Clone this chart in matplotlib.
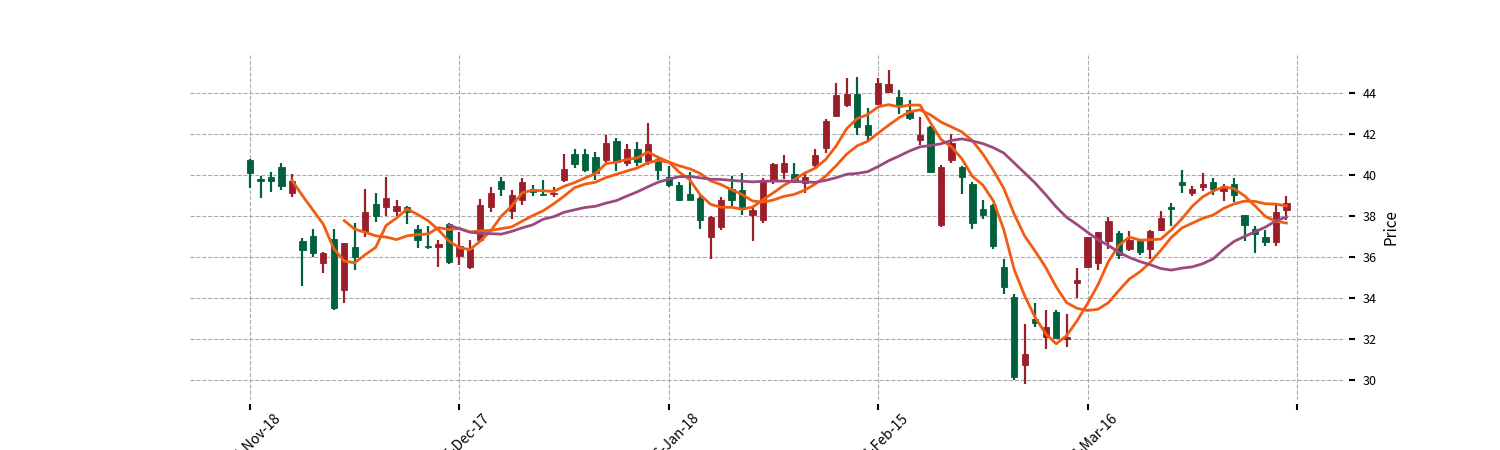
import matplotlib
matplotlib.use("Agg")
import matplotlib.pyplot as plt
import numpy as np
import pandas as pd

plt.rcParams['font.family'] = ['Noto Sans CJK SC', 'DejaVu Sans']

# daily OHLC (100 sessions)
opens = [40.73, 39.78, 39.92, 40.36, 39.14, 36.80, 37.03, 35.73, 36.89, 34.40,
         36.50, 37.21, 38.59, 38.46, 38.22, 38.43, 37.37, 36.56, 36.51, 37.62,
         36.03, 35.54, 36.84, 38.46, 39.72, 38.23, 38.76, 39.33, 39.07, 39.06,
         39.74, 41.01, 41.01, 40.86, 40.70, 41.64, 40.59, 41.28, 40.67, 40.75,
         39.90, 39.53, 39.09, 38.86, 36.96, 37.46, 39.33, 39.24, 38.07, 37.79,
         39.75, 40.14, 40.02, 39.62, 40.46, 41.32, 42.86, 43.38, 43.94, 42.43,
         43.43, 44.05, 43.77, 43.16, 41.69, 42.33, 37.56, 40.72, 40.38, 39.54,
         38.32, 38.51, 35.53, 34.05, 30.74, 32.97, 32.13, 33.35, 32.00, 34.73,
         35.50, 35.71, 36.76, 37.17, 36.39, 36.76, 36.39, 37.30, 38.44, 39.67,
         39.12, 39.41, 39.67, 39.20, 39.56, 38.03, 37.37, 36.98, 36.73, 38.31]
highs = [40.75, 39.95, 40.16, 40.57, 40.03, 36.95, 37.36, 36.27, 37.36, 36.68,
         37.68, 39.30, 39.11, 39.89, 38.78, 38.49, 37.57, 37.49, 36.84, 37.68,
         37.24, 36.84, 38.82, 39.43, 39.89, 39.28, 39.85, 39.51, 39.74, 39.41,
         41.02, 41.27, 41.27, 41.11, 41.93, 41.80, 41.51, 41.59, 42.54, 40.91,
         40.42, 39.64, 40.13, 38.96, 37.98, 38.93, 39.93, 40.07, 38.47, 39.85,
         40.59, 40.96, 40.56, 40.02, 41.27, 42.73, 44.49, 44.73, 44.78, 43.27,
         44.73, 45.10, 44.13, 43.64, 42.81, 42.38, 40.47, 41.97, 40.43, 39.65,
         38.77, 38.56, 35.92, 34.21, 32.75, 33.78, 33.40, 33.40, 33.24, 35.46,
         36.98, 37.22, 37.95, 37.25, 37.28, 36.85, 37.33, 38.23, 38.63, 40.23,
         39.48, 40.07, 39.85, 39.58, 39.85, 38.07, 37.50, 37.33, 38.55, 38.96]
lows = [39.38, 38.86, 39.19, 39.24, 38.91, 34.61, 35.99, 35.21, 33.41, 33.76,
        35.38, 37.00, 37.73, 38.00, 38.00, 37.62, 36.43, 36.40, 35.54, 35.65,
        35.62, 35.41, 36.76, 38.18, 38.98, 37.85, 38.55, 38.99, 38.99, 38.93,
        39.66, 40.34, 40.13, 39.74, 40.59, 40.21, 40.42, 40.42, 40.46, 39.74,
        39.40, 38.72, 38.76, 37.37, 35.90, 37.30, 38.47, 38.07, 36.80, 37.66,
        39.58, 39.81, 39.62, 39.13, 40.40, 41.08, 42.81, 43.32, 41.92, 41.69,
        43.38, 44.00, 42.94, 42.67, 41.44, 40.07, 37.48, 40.59, 39.05, 37.39,
        37.86, 36.40, 34.21, 30.04, 29.80, 32.58, 31.51, 32.05, 31.64, 34.00,
        35.46, 35.38, 36.39, 35.90, 36.28, 36.08, 35.90, 37.25, 37.50, 39.12,
        38.99, 39.20, 39.04, 38.75, 38.68, 36.76, 36.20, 36.55, 36.52, 37.82]
closes = [40.11, 39.70, 39.72, 39.48, 39.71, 36.35, 36.22, 36.22, 33.54, 36.66,
          35.98, 38.17, 38.00, 38.88, 38.49, 38.17, 36.84, 36.48, 36.63, 35.75,
          36.56, 36.40, 38.54, 39.14, 39.30, 39.04, 39.64, 39.15, 39.00, 39.12,
          40.31, 40.55, 40.26, 40.07, 41.56, 40.63, 41.24, 40.63, 41.50, 40.26,
          39.51, 38.76, 38.80, 37.82, 37.93, 38.80, 38.76, 38.34, 38.31, 39.74,
          40.51, 40.56, 39.75, 39.89, 40.95, 42.62, 43.87, 43.94, 42.33, 41.92,
          44.49, 44.42, 43.38, 42.78, 41.92, 40.15, 40.40, 41.56, 39.89, 37.64,
          38.03, 36.56, 34.55, 30.15, 31.26, 32.78, 32.62, 32.08, 32.13, 34.89,
          36.96, 37.20, 37.74, 36.11, 36.85, 36.23, 37.28, 37.90, 38.34, 39.51,
          39.32, 39.58, 39.32, 39.37, 39.04, 37.58, 37.14, 36.73, 38.20, 38.63]

tick_pos = [0, 20, 40, 60, 80, 100]
tick_labels = ['2015-Nov-18', '2015-Dec-17', '2016-Jan-18', '2016-Feb-15', '2016-Mar-16', '']
ma_windows = [5, 10, 20]

up_color = '#9b1f2a'
down_color = '#00613d'
ma_colors = ['#f25c12', '#f25c12', '#9c4a7e']

df = pd.DataFrame({'Open': opens, 'High': highs, 'Low': lows, 'Close': closes})
x = np.arange(len(df))

fig = plt.figure(figsize=(15, 4.5), dpi=100)
ax = fig.add_axes([0.1267, 0.111, 0.77, 0.767])

colors = [up_color if c >= o else down_color for o, c in zip(df['Open'], df['Close'])]
ax.vlines(x, df['Low'], df['High'], colors=colors, linewidth=1.6, zorder=2)
bottoms = np.minimum(df['Open'], df['Close'])
heights = np.maximum(np.abs(df['Close'] - df['Open']), 0.06)
ax.bar(x, heights, bottom=bottoms, width=0.6, color=colors, edgecolor=colors,
       linewidth=0.6, zorder=3)

# moving averages
for w, col in zip(ma_windows, ma_colors):
    ma = df['Close'].rolling(w).mean()
    ax.plot(x, ma, color=col, linewidth=2.0, zorder=4)

ax.set_xlim(-5.73, 104.6)
ax.set_ylim(29.04, 45.84)
ax.set_yticks(np.arange(30, 45, 2))
ax.set_xticks(tick_pos)
ax.set_xticklabels(tick_labels, fontsize=8.5)

ax.yaxis.tick_right()
ax.yaxis.set_label_position('right')
ax.set_ylabel('Price', fontsize=11, labelpad=4)
ax.tick_params(axis='y', labelsize=9, length=4, width=1.5, pad=6)
ax.tick_params(axis='x', length=4, width=1.5, pad=1, labelrotation=45)
for lbl in ax.get_xticklabels():
    lbl.set_horizontalalignment('center')

for side in ['top', 'left', 'right', 'bottom']:
    ax.spines[side].set_visible(False)
ax.spines['bottom'].set_position(('outward', 3))
ax.spines['right'].set_position(('outward', 3))

ax.grid(True, linestyle='--', color='#aaaaaa', linewidth=0.8)
ax.set_axisbelow(True)

fig.savefig('out.png', dpi=100)
